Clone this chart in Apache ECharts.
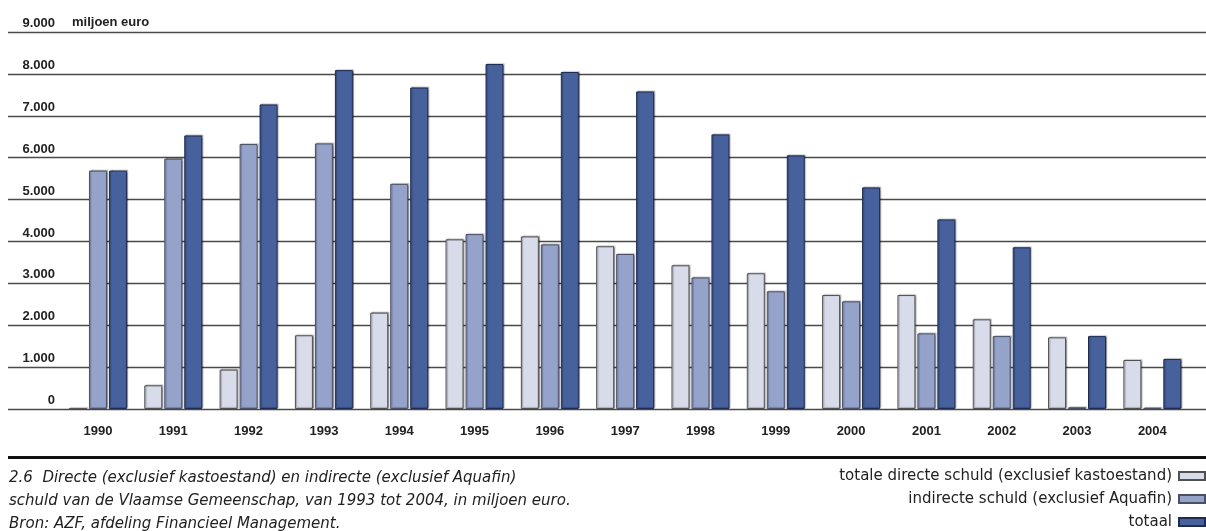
<!DOCTYPE html>
<html>
<head>
<meta charset="utf-8">
<script src="https://cdn.jsdelivr.net/npm/echarts@6/dist/echarts.min.js"></script>
<style>html,body{margin:0;padding:0;background:#fff}#c{width:1206px;height:531px}</style>
</head>
<body>
<div id="c"></div>
<script>
const years = ['1990','1991','1992','1993','1994','1995','1996','1997','1998','1999','2000','2001','2002','2003','2004'];
const directe = [10, 565, 940, 1760, 2300, 4050, 4120, 3885, 3430, 3240, 2720, 2720, 2140, 1710, 1170];
const indirecte = [5690, 5975, 6325, 6340, 5375, 4175, 3930, 3700, 3140, 2810, 2570, 1805, 1740, 40, 30];
const totaal = [5690, 6530, 7270, 8090, 7675, 8235, 8045, 7580, 6555, 6055, 5290, 4525, 3860, 1740, 1195];
const seriesNames = ['totale directe schuld (exclusief kastoestand)', 'indirecte schuld (exclusief Aquafin)', 'totaal'];
const unitLabel = 'miljoen euro';
const captionLines = [
  '2.6  Directe (exclusief kastoestand) en indirecte (exclusief Aquafin)',
  'schuld van de Vlaamse Gemeenschap, van 1993 tot 2004, in miljoen euro.',
  'Bron: AZF, afdeling Financieel Management.'
];

const chart = echarts.init(document.getElementById('c'), null, {renderer: 'canvas'});
const fmt = v => v === 0 ? '0' : (v / 1000) + '.000';
const shadow = {shadowColor: 'rgba(0,0,0,0.28)', shadowBlur: 1, shadowOffsetX: 1.2, shadowOffsetY: -0.8};
const colors = ['#d8dbea', '#95a3cb', '#46619c'];
const borders = ['#505050', '#4a4f66', '#1f2b50'];
const datas = [directe, indirecte, totaal];

chart.setOption({
  animation: false,
  textStyle: {fontFamily: 'Liberation Sans, Arial, sans-serif'},
  title: [{
    text: unitLabel, left: 72, top: 16, padding: 0,
    textStyle: {fontSize: 13, fontWeight: 'bold', color: '#222'}
  }, {
    text: captionLines.join('\n'), left: 9, top: 467, padding: 0,
    textStyle: {fontSize: 15, fontStyle: 'italic', fontWeight: 'normal', color: '#222', lineHeight: 23, fontFamily: 'DejaVu Sans'}
  }],
  legend: {
    orient: 'vertical', right: 0, top: 468, align: 'right', padding: 0, height: 63,
    icon: 'rect', itemWidth: 26, itemHeight: 8, itemGap: 7,
    itemStyle: {shadowBlur: 0, shadowOffsetX: 0, shadowOffsetY: 0, shadowColor: 'transparent'},
    textStyle: {fontSize: 15, color: '#222', lineHeight: 16, fontFamily: 'DejaVu Sans', padding: [0, 2, 0, 0]},
    data: seriesNames
  },
  grid: [
    {left: 8, right: 0, top: 32, bottom: 122},
    {left: 60.3, right: 16, top: 32, bottom: 122}
  ],
  xAxis: [
    {gridIndex: 0, type: 'value', show: false, min: 0, max: 1},
    {gridIndex: 1, type: 'category', data: years,
      axisLine: {show: false}, axisTick: {show: false},
      axisLabel: {fontSize: 13, fontWeight: 'bold', color: '#222', margin: 16}}
  ],
  yAxis: [
    {gridIndex: 0, type: 'value', min: 0, max: 9000, interval: 1000,
      axisLine: {show: false}, axisTick: {show: false},
      splitLine: {show: true, lineStyle: {color: '#4a4a4a', width: 1.3}},
      axisLabel: {inside: true, margin: 47, align: 'right', verticalAlign: 'bottom', padding: [0, 0, 2, 0],
        fontSize: 13, fontWeight: 'bold', color: '#222', formatter: fmt}},
    {gridIndex: 1, type: 'value', min: 0, max: 9000, interval: 1000, show: false, splitLine: {show: false}}
  ],
  series: seriesNames.map((n, i) => ({
    name: n, type: 'bar', xAxisIndex: 1, yAxisIndex: 1,
    data: datas[i], barWidth: 18, barGap: '11%',
    itemStyle: Object.assign({color: colors[i], borderColor: borders[i], borderWidth: 1}, shadow),
    z: 3
  })),
  graphic: [{
    type: 'line', shape: {x1: 8, y1: 457.5, x2: 1206, y2: 457.5},
    style: {stroke: '#111', lineWidth: 3}
  }]
});
</script>
</body>
</html>
